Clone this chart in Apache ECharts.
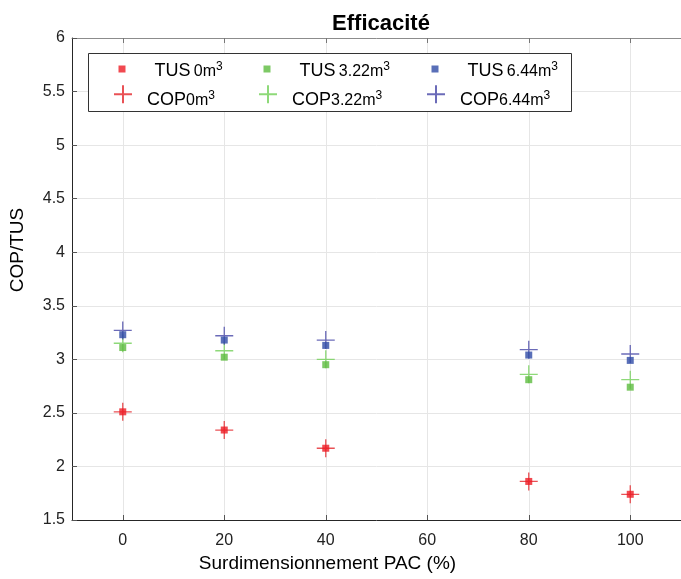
<!DOCTYPE html>
<html>
<head>
<meta charset="utf-8">
<script src="https://cdn.jsdelivr.net/npm/echarts@6/dist/echarts.min.js"></script>
<style>
  html, body { margin: 0; padding: 0; background: #fff; }
  #main { width: 681px; height: 579px; }
</style>
</head>
<body>
<div id="main"></div>
<script>
// surdimensionnement PAC (%)
var xVals = [0, 20, 40, 80, 100];
var xTicks = [0, 20, 40, 60, 80, 100];

// TUS (carrés)
var tus0 = [2.51, 2.34, 2.17, 1.86, 1.74];
var tus322 = [3.11, 3.02, 2.95, 2.81, 2.74];
var tus644 = [3.23, 3.18, 3.13, 3.04, 2.99];

// COP (croix)
var cop0 = [2.51, 2.34, 2.17, 1.86, 1.74];
var cop322 = [3.15, 3.08, 3.00, 2.86, 2.81];
var cop644 = [3.27, 3.22, 3.18, 3.09, 3.05];

var volumes = ['0m', '3.22m', '6.44m'];

var chart = echarts.init(document.getElementById('main'));

var FONT = 'Liberation Sans, Arial, Helvetica, sans-serif';
var PLUS = 'path://M0,9L18,9M9,0L9,18';
// icônes de légende : symbole en haut de la boîte pour que le texte soit un peu plus bas
var PLUS_LEG = 'path://M0,9L18,9M9,0L9,18M0,30';
var RECT_LEG = 'path://M0,0L7,0L7,7L0,7ZM0,12';

function pts(vals) {
  return xVals.map(function (x, i) { return [x, vals[i]] })
}

var rich = {
  pad: { width: 24 },
  padc: { width: 10 },
  a: { fontSize: 18, color: '#000', fontFamily: FONT, lineHeight: 22 },
  b: { fontSize: 16, color: '#000', fontFamily: FONT, lineHeight: 22 },
  s: { fontSize: 12, color: '#000', fontFamily: FONT, lineHeight: 8, verticalAlign: 'top' }
}

// une légende par entrée, pour caler les colonnes
function oneLegend(name, left, top, w, h, icon, label, vol, isTus) {
  return {
    data: [{ name: name, icon: icon }],
    left: left,
    top: top,
    padding: 0,
    itemWidth: w,
    itemHeight: h,
    selectedMode: false,
    z: 10,
    formatter: function () {
      if (isTus) return '{pad|}{a|' + label + '} {b|' + vol + '}{s|3}'
      return '{padc|}{a|' + label + '}{b|' + vol + '}{s|3}'
    },
    textStyle: { rich: rich }
  }
}

var tusColors = ['#ed1c24', '#5dbb3f', '#2f4ba6'];
var copColors = ['#e3262b', '#72cf58', '#4646a6'];
var tusData = [tus0, tus322, tus644];
var copData = [cop0, cop322, cop644];
var colX = [122, 267, 435];

var series = [];
var legends = [];
for (var k = 0; k < 3; k++) {
  var tusName = 'TUS ' + volumes[k] + '3';
  var copName = 'COP ' + volumes[k] + '3';
  series.push({
    name: copName,
    type: 'scatter',
    z: 2,
    symbol: PLUS,
    symbolSize: 18,
    itemStyle: { color: 'transparent', borderColor: copColors[k], borderWidth: 1.3 },
    data: pts(copData[k])
  });
  series.push({
    name: tusName,
    type: 'scatter',
    z: 3,
    symbol: 'rect',
    symbolSize: 7,
    itemStyle: { color: tusColors[k] },
    data: pts(tusData[k])
  });
  legends.push(oneLegend(tusName, colX[k] - 3.5, 60.5, 7, 12, RECT_LEG, 'TUS', volumes[k], true));
  legends.push(oneLegend(copName, colX[k] - 9, 84.3, 18, 30, PLUS_LEG, 'COP', volumes[k], false));
}

var option = {
  animation: false,
  backgroundColor: '#fff',
  title: {
    text: 'Efficacité',
    left: 376,
    textAlign: 'center',
    top: 8,
    textStyle: { fontFamily: FONT, fontSize: 22, fontWeight: 'bold', color: '#000' }
  },
  legend: legends,
  graphic: [{
    type: 'rect',
    z: 5,
    shape: { x: 88.5, y: 53.5, width: 483, height: 58 },
    style: { fill: '#fff', stroke: '#333', lineWidth: 1 }
  }],
  grid: { left: 72, top: 38, right: -3, bottom: 59 },
  xAxis: [{
    type: 'value',
    min: -10,
    max: 110,
    name: 'Surdimensionnement PAC (%)',
    nameLocation: 'middle',
    nameGap: 28,
    nameTextStyle: { fontFamily: FONT, fontSize: 19, color: '#000', padding: [0, 98, 0, 0] },
    axisLine: { onZero: false, lineStyle: { color: '#262626' } },
    axisTick: { inside: true, length: 5, customValues: xTicks, lineStyle: { color: '#555' } },
    axisLabel: { customValues: xTicks, margin: 13, fontFamily: FONT, fontSize: 16, color: '#222' },
    splitLine: { show: true, lineStyle: { color: '#e6e6e6' } }
  }, {
    type: 'value',
    position: 'top',
    min: -10,
    max: 110,
    axisLine: { onZero: false, lineStyle: { color: '#8c8c8c' } },
    axisTick: { inside: true, length: 5, customValues: xTicks, lineStyle: { color: '#777' } },
    axisLabel: { show: false },
    splitLine: { show: false }
  }],
  yAxis: {
    type: 'value',
    min: 1.5,
    max: 6,
    interval: 0.5,
    name: 'COP/TUS',
    nameLocation: 'middle',
    nameRotate: 90,
    nameGap: 45,
    nameTextStyle: { fontFamily: FONT, fontSize: 19, color: '#000', padding: [0, 0, 0, 58] },
    axisLine: { show: true, onZero: false, lineStyle: { color: '#262626' } },
    axisTick: { show: true, inside: true, length: 5, lineStyle: { color: '#555' } },
    axisLabel: { margin: 7, fontFamily: FONT, fontSize: 16, color: '#222' },
    splitLine: { show: true, lineStyle: { color: '#e6e6e6' } }
  },
  series: series
};

chart.setOption(option);
</script>
</body>
</html>
